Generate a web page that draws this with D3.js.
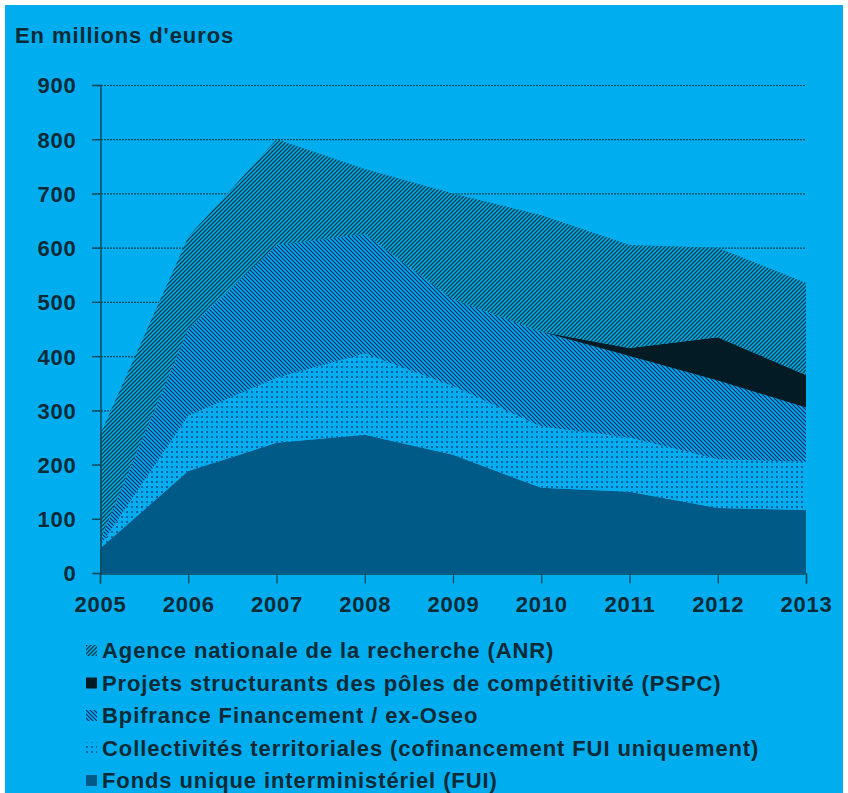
<!DOCTYPE html>
<html><head><meta charset="utf-8">
<script src="https://cdn.jsdelivr.net/npm/d3@7"></script>
<style>html,body{margin:0;padding:0;background:#fff;}svg{display:block;}</style>
</head><body>
<svg id="c" width="848" height="793"></svg>
<script>
const years = [2005, 2006, 2007, 2008, 2009, 2010, 2011, 2012, 2013];
const fui   = [45, 188, 240, 255, 218, 157, 150, 120, 116];
const coll  = [5, 102, 120, 150, 127, 113, 100, 90, 89];
const bpi   = [10, 160, 245, 220, 160, 175, 150, 145, 100];
const pspc  = [0, 0, 0, 0, 0, 0, 15, 80, 60];
const anr   = [195, 170, 195, 120, 195, 215, 190, 165, 170];
const yTicks = [0, 100, 200, 300, 400, 500, 600, 700, 800, 900];
const seriesKeys = ["fui", "coll", "bpi", "pspc", "anr"];
const legendLabels = [
  ["anr", "Agence nationale de la recherche (ANR)"],
  ["pspc", "Projets structurants des pôles de compétitivité (PSPC)"],
  ["bpi", "Bpifrance Financement / ex-Oseo"],
  ["coll", "Collectivités territoriales (cofinancement FUI uniquement)"],
  ["fui", "Fonds unique interministériel (FUI)"]
];
const title = "En millions d'euros";

const BG = "#00aeef", INK = "#0b2a36", GRID = "#0e4a5c";
const FONT = "'Liberation Sans', Arial, sans-serif";
const svg = d3.select("#c");
svg.append("rect").attr("x", 5).attr("y", 5).attr("width", 838).attr("height", 788).attr("fill", BG);

const defs = svg.append("defs");
function linePat(id, color, dir, w) {
  const p = defs.append("pattern").attr("id", id).attr("patternUnits", "userSpaceOnUse")
    .attr("width", 4).attr("height", 4);
  p.append("rect").attr("width", 4).attr("height", 4).attr("fill", BG);
  const d = dir === "up" ? "M-1,1 L1,-1 M0,4 L4,0 M3,5 L5,3" : "M-1,3 L1,5 M0,0 L4,4 M3,-1 L5,1";
  p.append("path").attr("d", d).attr("stroke", color).attr("stroke-width", w);
}
linePat("pANR", "#073e4c", "up", 1.3);
linePat("pBPI", "#042a66", "down", 1.2);
const pd = defs.append("pattern").attr("id", "pCOLL").attr("patternUnits", "userSpaceOnUse")
  .attr("width", 5).attr("height", 5);
pd.append("rect").attr("width", 5).attr("height", 5).attr("fill", BG);
pd.append("rect").attr("x", 1).attr("y", 1).attr("width", 2).attr("height", 2).attr("fill", "#0f62a2");

const fills = { fui: "#005a88", coll: "url(#pCOLL)", bpi: "url(#pBPI)", pspc: "#021b25", anr: "url(#pANR)" };

const x = d3.scaleLinear().domain([2005, 2013]).range([100, 806]);
const y = d3.scaleLinear().domain([0, 900]).range([573, 85]);

const data = years.map((yr, i) => ({ year: yr, fui: fui[i], coll: coll[i], bpi: bpi[i], pspc: pspc[i], anr: anr[i] }));
const stacked = d3.stack().keys(seriesKeys)(data);

// gridlines
svg.append("g").selectAll("line").data(yTicks.filter(t => t > 0)).join("line")
  .attr("x1", 92).attr("x2", x(2013)).attr("y1", d => y(d) + 0.5).attr("y2", d => y(d) + 0.5)
  .attr("stroke", GRID).attr("stroke-width", 1.2).attr("stroke-dasharray", "2,1");

const area = d3.area().x(d => x(d.data.year)).y0(d => y(d[0])).y1(d => y(d[1]));
svg.append("g").selectAll("path").data(stacked).join("path")
  .attr("d", area).attr("fill", d => fills[d.key]);

// axes
const yAxis = svg.append("g").attr("transform", "translate(100.5,0)")
  .call(d3.axisLeft(y).tickValues(yTicks).tickSize(8).tickPadding(16).tickFormat(d3.format("d")));
const xAxis = svg.append("g").attr("transform", "translate(0,573.5)")
  .call(d3.axisBottom(x).tickValues(years).tickSize(10).tickPadding(13).tickFormat(d3.format("d")));
[yAxis, xAxis].forEach(g => {
  g.select(".domain").attr("stroke", GRID).attr("stroke-width", 1.5);
  g.selectAll(".tick line").attr("stroke", GRID).attr("stroke-width", 1.3);
  g.selectAll("text").attr("fill", INK).style("font-family", FONT)
    .style("font-weight", "bold").style("font-size", "22px").style("letter-spacing", "0.8px");
});
yAxis.selectAll("text").attr("dy", "0.36em");
xAxis.selectAll("text").attr("dy", "0.71em");

svg.append("text").attr("x", 15).attr("y", 43).text(title)
  .attr("fill", INK).style("font-family", FONT)
  .style("font-weight", "bold").style("font-size", "22px").style("letter-spacing", "0.9px");

// legend
const lg = svg.append("g");
legendLabels.forEach(([k, label], i) => {
  const by = 658 + i * 32.5;
  lg.append("rect").attr("x", 86).attr("y", by - 13).attr("width", 11).attr("height", 11).attr("fill", fills[k]);
  lg.append("text").attr("x", 102).attr("y", by).text(label)
    .attr("fill", INK).style("font-family", FONT)
    .style("font-weight", "bold").style("font-size", "22px").style("letter-spacing", "0.9px");
});
</script>
</body></html>
